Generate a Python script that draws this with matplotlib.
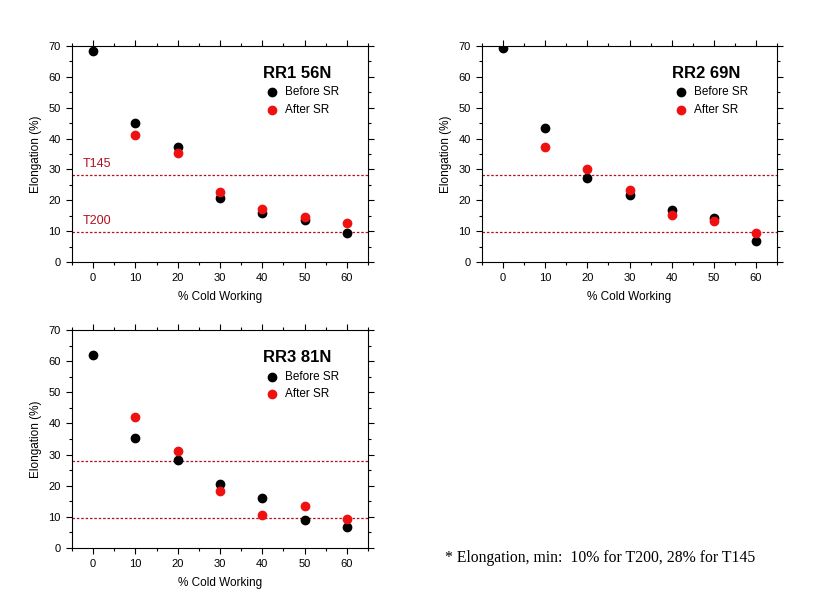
import numpy as np
import matplotlib
matplotlib.use("Agg")
import matplotlib.pyplot as plt
from matplotlib.ticker import MultipleLocator

cold_working = [0, 10, 20, 30, 40, 50, 60]

rr1_before = [68.4, 44.9, 37.3, 20.7, 15.9, 13.6, 9.5]
rr1_after = [np.nan, 41.3, 35.2, 22.7, 17.1, 14.6, 12.5]

rr2_before = [69.4, 43.5, 27.1, 21.6, 16.9, 14.2, 6.9]
rr2_after = [np.nan, 37.4, 30.0, 23.2, 15.1, 13.4, 9.5]

rr3_before = [61.9, 35.3, 28.2, 20.4, 16.1, 9.0, 6.6]
rr3_after = [np.nan, 42.0, 31.1, 18.3, 10.6, 13.6, 9.3]

titles = ["RR1 56N", "RR2 69N", "RR3 81N"]
limit_t145 = [28.3, 28.2, 27.9]
limit_t200 = [9.8, 9.8, 9.7]
show_limit_labels = [True, False, False]

xlabel = "% Cold Working"
ylabel = "Elongation (%)"
legend_labels = ["Before SR", "After SR"]
footnote = "* Elongation, min:  10% for T200, 28% for T145"

W, H = 819, 615
fig = plt.figure(figsize=(W / 100, H / 100), dpi=100)
plt.rcParams['font.family'] = ['Liberation Sans', 'DejaVu Sans']

positions = [(72, 46, 368, 262), (482, 46, 777, 262), (72, 330, 368, 548)]
data = [(rr1_before, rr1_after), (rr2_before, rr2_after), (rr3_before, rr3_after)]
line_col = "#b01020"

for i, (pos, (bef, aft)) in enumerate(zip(positions, data)):
    l, t, r, b = pos
    ax = fig.add_axes([l / W, 1 - b / H, (r - l) / W, (b - t) / H])
    ax.set_xlim(-5, 65)
    ax.set_ylim(0, 70)
    ax.xaxis.set_major_locator(MultipleLocator(10))
    ax.xaxis.set_minor_locator(MultipleLocator(5))
    ax.yaxis.set_major_locator(MultipleLocator(10))
    ax.yaxis.set_minor_locator(MultipleLocator(5))
    ax.tick_params(which='both', direction='out', top=True, right=True,
                   labelsize=8, width=0.8, pad=4)
    ax.tick_params(which='major', length=4)
    ax.tick_params(which='minor', length=2.5)
    for s in ax.spines.values():
        s.set_linewidth(0.8)

    ax.axhline(limit_t145[i], color=line_col, lw=0.9, ls=(0, (2, 1.5)), zorder=1)
    ax.axhline(limit_t200[i], color=line_col, lw=0.9, ls=(0, (2, 1.5)), zorder=1)
    if show_limit_labels[i]:
        ax.text(-2.5, limit_t145[i] + 1.6, "T145", color=line_col, fontsize=9, va='bottom')
        ax.text(-2.5, limit_t200[i] + 1.6, "T200", color=line_col, fontsize=9, va='bottom')

    ax.plot(cold_working, bef, 'o', color='black', ms=6, zorder=3)
    ax.plot(cold_working, aft, 'o', color='#ee1111', ms=6, zorder=4)

    ax.set_xlabel(xlabel, fontsize=8.5, labelpad=6)
    ax.set_ylabel(ylabel, fontsize=8.5, labelpad=5)

    ax.text(0.645, 0.875, titles[i], transform=ax.transAxes, fontsize=12,
            fontweight='bold', ha='left', va='center')
    ax.plot(0.675, 0.785, 'o', color='black', ms=6, transform=ax.transAxes, clip_on=False)
    ax.plot(0.675, 0.705, 'o', color='#ee1111', ms=6, transform=ax.transAxes, clip_on=False)
    ax.text(0.72, 0.785, legend_labels[0], transform=ax.transAxes, fontsize=8.5, va='center')
    ax.text(0.72, 0.705, legend_labels[1], transform=ax.transAxes, fontsize=8.5, va='center')

fig.text(445 / W, 1 - 558 / H, footnote, fontsize=11.3, family='Liberation Serif',
         va='center', ha='left')

fig.savefig("out.png", dpi=100)
